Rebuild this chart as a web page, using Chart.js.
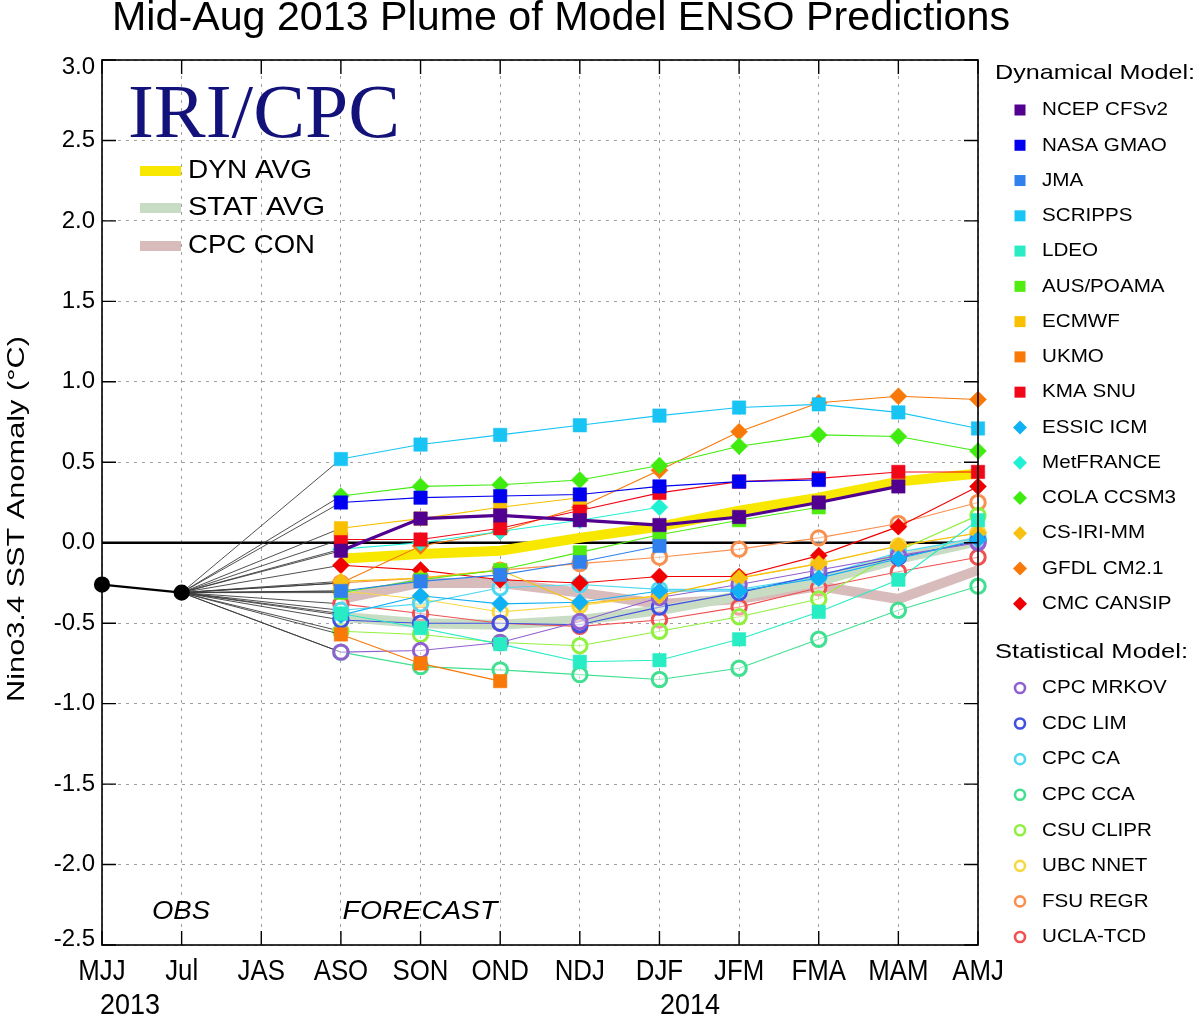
<!DOCTYPE html>
<html><head><meta charset="utf-8">
<script src="https://cdn.jsdelivr.net/npm/chart.js@4/dist/chart.umd.min.js"></script>
<style>html,body{margin:0;padding:0;background:#fff;overflow:hidden}#wrap{width:1200px;height:1018px;position:relative}</style>
</head><body><div id="wrap"><canvas id="c" width="1200" height="1018"></canvas></div>
<script>
// ---------- DATA ----------
const seasons = ['MJJ','Jul','JAS','ASO','SON','OND','NDJ','DJF','JFM','FMA','MAM','AMJ'];
const years = ['2013','2014'];
const obs = [-0.26, -0.31];               // MJJ, Jul observed
// forecast values start at ASO
const ncepCFSv2 = [-0.05, 0.15, 0.17, 0.14, 0.11, 0.16, 0.25, 0.35];
const nasaGMAO  = [0.25, 0.28, 0.29, 0.30, 0.35, 0.38, 0.39];
const jma       = [-0.30, -0.24, -0.20, -0.12, -0.02];
const scripps   = [0.52, 0.61, 0.67, 0.73, 0.79, 0.84, 0.86, 0.81, 0.71];
const ldeo      = [-0.44, -0.53, -0.63, -0.74, -0.73, -0.60, -0.43, -0.23, 0.14];
const ausPoama  = [-0.31, -0.23, -0.17, -0.06, 0.05, 0.14, 0.22];
const ecmwf     = [0.09, 0.15, 0.22, 0.28];
const ukmo      = [-0.57, -0.75, -0.86];
const kmaSnu    = [0.02, 0.02, 0.09, 0.20, 0.31, 0.38, 0.40, 0.44, 0.44];
const essicIcm  = [-0.45, -0.33, -0.38, -0.37, -0.30, -0.30, -0.22, -0.10, 0.02];
const metFrance = [-0.04, 0.00, 0.07, 0.14, 0.22];
const colaCcsm3 = [0.29, 0.35, 0.36, 0.39, 0.48, 0.60, 0.67, 0.66, 0.57];
const csIriMm   = [-0.24, -0.22, -0.17, -0.38, -0.33, -0.22, -0.13, -0.02, 0.06];
const gfdlCm21  = [-0.25, -0.02, 0.07, 0.22, 0.45, 0.69, 0.87, 0.91, 0.89];
const cmcCansip = [-0.14, -0.17, -0.23, -0.25, -0.21, -0.21, -0.08, 0.10, 0.35];

const cpcMrkov  = [-0.68, -0.67, -0.62, -0.49, -0.34, -0.26, -0.17, -0.08, 0.00];
const cdcLim    = [-0.48, -0.50, -0.50, -0.51, -0.40, -0.31, -0.20, -0.09, 0.01];
const cpcCa     = [-0.42, -0.38, -0.28, -0.26, -0.29, -0.29, -0.21, -0.06, 0.03];
const cpcCca    = [-0.68, -0.77, -0.79, -0.82, -0.85, -0.78, -0.60, -0.42, -0.27];
const csuClipr  = [-0.55, -0.57, -0.62, -0.64, -0.55, -0.46, -0.35, -0.05, 0.17];
const ubcNnet   = [-0.30, -0.35, -0.43, -0.39, -0.33, -0.22, -0.13, -0.02, 0.06];
const fsuRegr   = [-0.25, -0.22, -0.17, -0.13, -0.09, -0.04, 0.03, 0.12, 0.25];
const uclaTcd   = [-0.38, -0.44, -0.50, -0.52, -0.48, -0.40, -0.28, -0.18, -0.09];

const dynAvg  = [-0.10, -0.07, -0.05, 0.03, 0.10, 0.20, 0.28, 0.38, 0.43];
const statAvg = [-0.46, -0.50, -0.51, -0.48, -0.42, -0.33, -0.24, -0.10, 0.01];
const cpcCon  = [-0.35, -0.25, -0.25, -0.31, -0.38, -0.35, -0.27, -0.35, -0.17];

const dynNames  = ['NCEP CFSv2','NASA GMAO','JMA','SCRIPPS','LDEO','AUS/POAMA','ECMWF','UKMO','KMA SNU','ESSIC ICM','MetFRANCE','COLA CCSM3','CS-IRI-MM','GFDL CM2.1','CMC CANSIP'];
const dynData   = [ncepCFSv2,nasaGMAO,jma,scripps,ldeo,ausPoama,ecmwf,ukmo,kmaSnu,essicIcm,metFrance,colaCcsm3,csIriMm,gfdlCm21,cmcCansip];
const statNames = ['CPC MRKOV','CDC LIM','CPC CA','CPC CCA','CSU CLIPR','UBC NNET','FSU REGR','UCLA-TCD'];
const statData  = [cpcMrkov,cdcLim,cpcCa,cpcCca,csuClipr,ubcNnet,fsuRegr,uclaTcd];
const avgNames  = ['DYN AVG','STAT AVG','CPC CON'];
const avgData   = [dynAvg, statAvg, cpcCon];

// ---------- STYLE ----------
const dynColors  = ['#52008f','#0000f0','#3080ee','#18c4f4','#28ecc4','#50ec10','#f8c000','#f87808','#f00818','#10b0f4','#20f0d4','#40ec10','#f8c010','#f87808','#f00000'];
const dynShapes  = ['rect','rect','rect','rect','rect','rect','rect','rect','rect','rectRot','rectRot','rectRot','rectRot','rectRot','rectRot'];
const statColors = ['#9060d0','#4050e0','#50d8f0','#40e090','#90f040','#f8d840','#f89050','#f05050'];
const avgColors  = ['#f8e800','#c8dcc4','#d8bcbc'];
const FONT = "'Liberation Sans', Arial, Helvetica, sans-serif";

function pad(arr){ return [null, obs[obs.length-1], null, ...arr]; }
const connector = {
  borderColor: c => c.p1DataIndex <= 3 ? '#3c3c3c' : undefined,
  borderWidth: c => c.p1DataIndex <= 3 ? 0.9 : undefined
};

const datasets = [];
datasets.push({label:'OBS', data: obs.concat(Array(seasons.length-obs.length).fill(null)),
  borderColor:'#000', backgroundColor:'#000', borderWidth:2.2, pointRadius:7, pointBackgroundColor:'#000', pointBorderColor:'#000', tension:0});
dynNames.forEach((n,i)=>{
  const shape = dynShapes[i];
  datasets.push({label:n, data:pad(dynData[i]), borderColor:dynColors[i], backgroundColor:dynColors[i],
    borderWidth: i===0 ? 3.2 : 1.1, pointStyle:shape,
    pointRadius: c => c.dataIndex < 3 ? 0 : (shape==='rect' ? 9.5 : 8.5),
    pointBackgroundColor:dynColors[i], pointBorderColor:dynColors[i], pointBorderWidth:0.5,
    spanGaps:true, tension:0, segment:connector});
});
statNames.forEach((n,i)=>{
  datasets.push({label:n, data:pad(statData[i]), borderColor:statColors[i], backgroundColor:'rgba(255,255,255,0)',
    borderWidth:1.1, pointStyle:'circle',
    pointRadius: c => c.dataIndex < 3 ? 0 : 7.2,
    pointBackgroundColor:'rgba(255,255,255,0.45)', pointBorderColor:statColors[i], pointBorderWidth:3,
    spanGaps:true, tension:0, segment:connector});
});
avgNames.forEach((n,i)=>{
  datasets.push({label:n, data:[null,null,null,...avgData[i]], borderColor:avgColors[i], backgroundColor:avgColors[i],
    borderWidth:10, pointRadius:0, borderCapStyle:'butt', spanGaps:true, tension:0});
});

// ---------- helpers ----------
function fitText(ctx, text, x, y, font, w, align, color, sx){
  ctx.save(); ctx.font = font; ctx.fillStyle = color || '#000';
  const m = ctx.measureText(text).width; const s = w ? w/m : (sx || 1);
  ctx.translate(x, y); ctx.scale(s, 1); ctx.textAlign = align || 'left'; ctx.textBaseline = 'middle';
  ctx.fillText(text, 0, 0); ctx.restore();
}
function marker(ctx, shape, x, y, color){
  ctx.save(); ctx.fillStyle = color; ctx.strokeStyle = color;
  if (shape==='rect'){ ctx.fillRect(x-5.5, y-5.5, 11, 11); }
  else if (shape==='rectRot'){ ctx.beginPath(); ctx.moveTo(x, y-7); ctx.lineTo(x+7, y); ctx.lineTo(x, y+7); ctx.lineTo(x-7, y); ctx.closePath(); ctx.fill(); }
  else { ctx.lineWidth = 2.6; ctx.beginPath(); ctx.arc(x, y, 5, 0, Math.PI*2); ctx.stroke(); }
  ctx.restore();
}

const decor = {
  id:'decor',
  beforeDatasetsDraw(chart){
    const {ctx, chartArea:a, scales:{y}} = chart;
    const y0 = y.getPixelForValue(0);
    ctx.save(); ctx.strokeStyle='#000'; ctx.lineWidth=2.6;
    ctx.beginPath(); ctx.moveTo(a.left, y0); ctx.lineTo(a.right, y0); ctx.stroke(); ctx.restore();
  },
  afterDatasetsDraw(chart){
    const {ctx, chartArea:a, scales:{x,y}} = chart;
    ctx.save(); ctx.strokeStyle='#000'; ctx.lineWidth=1.6;
    ctx.strokeRect(a.left, a.top, a.right-a.left, a.bottom-a.top);
    ctx.lineWidth=1.4;
    y.ticks.forEach(t=>{ const py=y.getPixelForValue(t.value);
      ctx.beginPath(); ctx.moveTo(a.left,py); ctx.lineTo(a.left+14,py); ctx.moveTo(a.right,py); ctx.lineTo(a.right-14,py); ctx.stroke(); });
    seasons.forEach((s,i)=>{ const px=x.getPixelForValue(i);
      ctx.beginPath(); ctx.moveTo(px,a.bottom); ctx.lineTo(px,a.bottom-14); ctx.moveTo(px,a.top); ctx.lineTo(px,a.top+14); ctx.stroke(); });
    ctx.restore();
    // y tick labels (end labels pulled inside the frame, as in the original)
    y.ticks.forEach(t=>{ let py=y.getPixelForValue(t.value);
      py = Math.min(Math.max(py, a.top+7), a.bottom-6);
      fitText(ctx, Number(t.value).toFixed(1), 95, py, `24px ${FONT}`, 0, 'right'); });
    // x tick labels (condensed, as in the original)
    seasons.forEach((s,i)=>{ const px=x.getPixelForValue(i);
      fitText(ctx, s, px, 972, `30px ${FONT}`, 0, 'center', '#000', 0.86); });
  },
  afterDraw(chart){
    const {ctx} = chart;
    // title
    fitText(ctx, 'Mid-Aug 2013 Plume of Model ENSO Predictions', 561, 19, `41px ${FONT}`, 898, 'center');
    // y axis title
    ctx.save(); ctx.translate(17, 519); ctx.rotate(-Math.PI/2);
    fitText(ctx, 'Nino3.4 SST Anomaly (°C)', 0, 0, `24px ${FONT}`, 366, 'center'); ctx.restore();
    // IRI/CPC
    ctx.save(); ctx.font = `76px 'Liberation Serif', 'Times New Roman', serif`; ctx.fillStyle='#12127a';
    const iw = ctx.measureText('IRI/CPC').width; ctx.translate(128, 137); ctx.scale(272/iw, 1);
    ctx.textBaseline='alphabetic'; ctx.fillText('IRI/CPC', 0, 0); ctx.restore();
    // averages legend
    const avgY = [171, 208, 246], avgW = [124, 137, 127];
    avgNames.forEach((n,i)=>{
      ctx.save(); ctx.strokeStyle = avgColors[i]; ctx.lineWidth = 10; ctx.beginPath(); ctx.moveTo(140, avgY[i]); ctx.lineTo(181, avgY[i]); ctx.stroke(); ctx.restore();
      fitText(ctx, n, 188, avgY[i], `25px ${FONT}`, avgW[i], 'left');
    });
    // OBS / FORECAST
    fitText(ctx, 'OBS', 181, 912, `italic 25px ${FONT}`, 58, 'center');
    fitText(ctx, 'FORECAST', 420, 912, `italic 25px ${FONT}`, 155, 'center');
    // years
    fitText(ctx, years[0], 130, 1006, `30px ${FONT}`, 60, 'center');
    fitText(ctx, years[1], 690, 1006, `30px ${FONT}`, 60, 'center');
    // right legend
    fitText(ctx, 'Dynamical Model:', 995, 73, `21px ${FONT}`, 200, 'left');
    ctx.save(); ctx.font = `19px ${FONT}`; const sc = 126/ctx.measureText('NCEP CFSv2').width; ctx.restore();
    dynNames.forEach((n,i)=>{
      const yy = 110 + i*35.27;
      marker(ctx, dynShapes[i], 1020, yy, dynColors[i]);
      ctx.save(); ctx.font = `19px ${FONT}`; const w = ctx.measureText(n).width; ctx.restore();
      fitText(ctx, n, 1042, yy, `19px ${FONT}`, w*sc, 'left');
    });
    fitText(ctx, 'Statistical Model:', 995, 652, `21px ${FONT}`, 193, 'left');
    statNames.forEach((n,i)=>{
      const yy = 688 + i*35.57;
      marker(ctx, 'circle', 1020, yy, statColors[i]);
      ctx.save(); ctx.font = `19px ${FONT}`; const w = ctx.measureText(n).width; ctx.restore();
      fitText(ctx, n, 1042, yy, `19px ${FONT}`, w*sc, 'left');
    });
  }
};

new Chart(document.getElementById('c'), {
  type:'line',
  data:{labels:seasons, datasets},
  options:{
    responsive:false, animation:false, devicePixelRatio:1,
    layout:{padding:{top:60, right:222, bottom:0, left:0}},
    plugins:{legend:{display:false}, tooltip:{enabled:false}, title:{display:false}},
    scales:{
      x:{ type:'category', offset:false,
        grid:{color:'#a0a0a0', lineWidth:1, drawTicks:false, borderDash:[3,5]},
        border:{display:false, dash:[3,5]},
        ticks:{display:false, autoSkip:false},
        afterFit(s){ s.height = 73; } },
      y:{ min:-2.5, max:3.0,
        grid:{color:'#a0a0a0', lineWidth:1, drawTicks:false, borderDash:[3,5]},
        border:{display:false, dash:[3,5]},
        ticks:{stepSize:0.5, display:false},
        afterFit(s){ s.width = 102; } }
    }
  },
  plugins:[decor]
});
</script></body></html>
